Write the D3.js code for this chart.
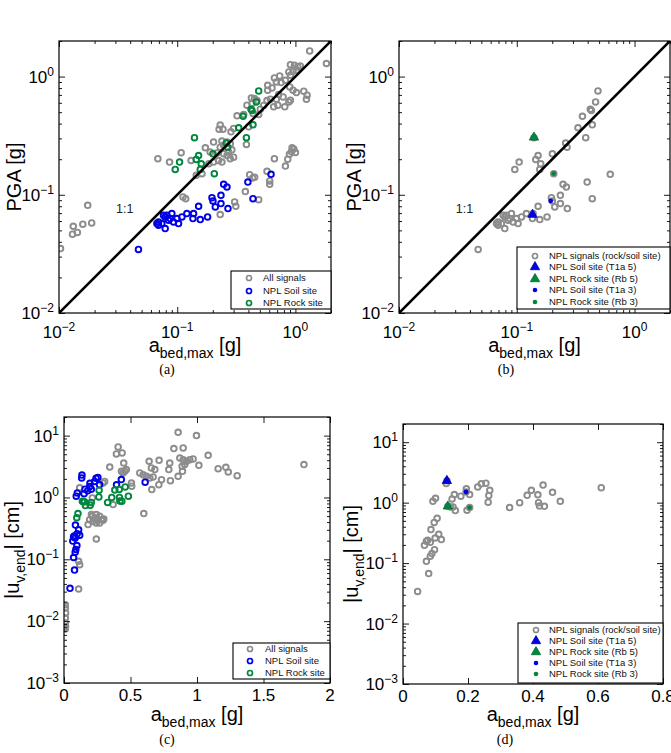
<!DOCTYPE html>
<html><head><meta charset="utf-8">
<script src="https://cdn.jsdelivr.net/npm/d3@7"></script>
<style>body{margin:0;background:#fff}</style>
</head><body>
<svg id="chart" width="671" height="753"></svg>
<script>
// ---------------- DATA ----------------
// Panel (a): PGA [g] vs a_bed,max [g]
const aAllSignals = [
 [0.0103,0.0351],[0.0130,0.0464],[0.0143,0.0480],[0.0132,0.0542],[0.0159,0.0564],[0.0189,0.0578],[0.0175,0.0815],
 [0.0686,0.202],[0.0861,0.189],[0.108,0.227],[0.131,0.195],[0.145,0.146],[0.162,0.151],[0.173,0.250],[0.190,0.230],[0.112,0.096],[0.118,0.0928],
 [0.231,0.389],[0.244,0.359],[0.226,0.359],[0.300,0.364],[0.285,0.341],[0.203,0.279],[0.239,0.285],[0.264,0.279],[0.281,0.270],[0.247,0.262],
 [0.231,0.253],[0.290,0.240],[0.272,0.230],[0.247,0.222],[0.217,0.226],[0.300,0.208],[0.281,0.202],[0.239,0.189],[0.224,0.195],[0.203,0.189],
 [0.185,0.183],[0.264,0.215],[0.385,0.267],[0.321,0.466],[0.402,0.376],[0.473,0.627],[0.365,0.478],
 [1.32,1.65],[1.83,1.29],[0.907,1.262],[0.981,1.246],[1.047,1.214],[1.10,1.23],[0.879,1.094],[0.955,1.109],[1.019,1.13],[0.907,1.026],
 [0.736,1.013],[0.664,0.975],[0.690,0.902],[0.756,0.890],[0.823,0.931],[0.583,0.845],[0.634,0.802],[0.583,0.767],[0.896,0.818],[0.955,0.767],
 [1.019,0.733],[1.177,0.752],[1.256,0.696],[1.239,0.644],[0.722,0.705],[0.787,0.673],[0.614,0.644],[0.690,0.644],[0.879,0.611],[0.907,0.631],
 [0.655,0.555],[0.71,0.573],[0.813,0.555],[0.424,0.660],[0.450,0.652],[0.389,0.573],[0.430,0.592],[0.505,0.530],[0.438,0.487],[0.489,0.478],
 [0.539,0.57],[0.575,0.627],
 [0.231,0.068],[0.306,0.087],[0.313,0.080],[0.377,0.1064],[0.41,0.148],[0.435,0.139],[0.452,0.141],[0.489,0.091],[0.575,0.158],[0.606,0.131],
 [0.606,0.1227],[0.664,0.202],[0.823,0.175],[0.861,0.200],[0.890,0.220],[0.925,0.231],[0.968,0.244],[1.0,0.228],[0.937,0.25]
];
const aSoilSite = [
 [0.047,0.0345],[0.0673,0.0571],[0.0695,0.059],[0.0695,0.0553],[0.0741,0.0571],[0.0791,0.065],[0.0845,0.0609],[0.0901,0.0694],[0.0873,0.0629],
 [0.0817,0.0671],[0.0766,0.0671],[0.0994,0.0629],[0.1026,0.0571],[0.0791,0.0518],[0.1096,0.065],[0.1208,0.0694],[0.1375,0.0694],[0.1358,0.0629],
 [0.1567,0.0617],[0.1517,0.080],[0.1807,0.065],[0.1968,0.0946],[0.2006,0.0887],[0.2345,0.099],[0.2345,0.0842],[0.210,0.0789],[0.2688,0.0764],
 [0.2472,0.1227],[0.2636,0.1164],[0.396,0.128],[0.4375,0.0928],[0.622,0.149],[0.0931,0.059]
];
const aRockSite = [
 [0.140,0.304],[0.0962,0.164],[0.1047,0.189],[0.1449,0.199],[0.1517,0.215],[0.1597,0.183],[0.1567,0.164],[0.2006,0.222],[0.206,0.151],
 [0.260,0.274],[0.2672,0.253],[0.331,0.369],[0.385,0.304],[0.361,0.462],[0.430,0.516],[0.4375,0.391],[0.467,0.611],[0.489,0.757],[0.421,0.530]
];
// Panel (b): selected records
const bSoilT1a5 = [[0.136,0.068]];
const bRockRb5  = [[0.140,0.306]];
const bSoilT1a3 = [[0.194,0.0887]];
const bRockRb3  = [[0.206,0.151]];

// Panel (c): |u_v,end| [cm] vs a_bed,max [g]
const cAllSignals = [
 [0.01,0.0185],[0.01,0.0163],[0.012,0.0136],[0.01,0.0112],[0.01,0.0093],[0.012,0.0082],[0.01,0.0075],
 [0.11,0.0331],[0.11,0.0929],[0.118,0.082],[0.243,0.213],
 [0.181,0.364],[0.193,0.438],[0.213,0.496],[0.231,0.466],[0.243,0.528],[0.256,0.438],[0.268,0.496],[0.281,0.438],[0.299,0.45],
 [0.218,0.412],[0.243,0.387],[0.268,0.387],[0.294,0.43],[0.206,0.528],
 [0.294,1.71],[0.306,1.82],[0.213,0.982],[0.118,1.43],
 [0.344,3.11],[0.407,6.56],[0.394,5.06],[0.437,5.25],[0.449,3.61],[0.457,2.65],[0.469,2.82],[0.444,2.49],[0.432,2.65],[0.507,1.71],
 [0.369,0.766],[0.60,0.548],[0.509,1.52],
 [0.570,2.49],[0.595,2.34],[0.620,2.20],[0.645,2.07],[0.670,2.15],[0.640,3.85],[0.657,3.0],[0.683,2.82],[0.715,3.99],[0.66,1.34],
 [0.713,1.61],[0.733,1.94],[0.795,3.61],[0.788,2.82],[0.80,1.87],[0.858,2.20],[0.858,11.3],[0.826,6.17],[0.896,6.32],[0.871,4.35],
 [0.896,4.09],[0.921,3.85],[0.946,4.09],[0.971,4.2],[0.908,3.40],[0.888,3.19],[0.891,2.65],[0.996,10],[1.014,3.31],[1.084,4.81],
 [1.159,2.92],[1.217,3.07],[1.235,2.58],[1.302,2.25],[1.804,3.40]
];
const cSoilSite = [
 [0.045,0.034],[0.079,0.067],[0.072,0.107],[0.084,0.13],[0.089,0.144],[0.097,0.167],[0.066,0.197],[0.076,0.239],[0.084,0.221],[0.072,0.23],
 [0.086,0.358],[0.099,0.26],[0.11,0.30],[0.118,0.245],[0.092,1.05],[0.1,1.18],[0.133,2.07],[0.135,2.3],[0.151,1.15],[0.158,1.36],
 [0.178,1.28],[0.195,1.69],[0.194,1.5],[0.205,1.36],[0.23,1.82],[0.241,2.05],[0.255,2.1],[0.267,1.6],[0.395,1.6],[0.431,1.95],[0.61,1.77]
];
const cRockSite = [
 [0.096,0.47],[0.105,0.55],[0.138,0.87],[0.146,0.85],[0.154,0.85],[0.161,0.74],[0.197,0.75],[0.205,0.83],[0.262,1.02],[0.264,1.31],
 [0.328,0.83],[0.359,1.0],[0.382,1.32],[0.415,1.35],[0.417,1.0],[0.42,0.88],[0.435,0.87],[0.46,1.48],[0.484,1.05]
];
// Panel (d): selected records
const dSoilT1a5 = [[0.135,2.3]];
const dRockRb5  = [[0.138,0.87]];
const dSoilT1a3 = [[0.194,1.5]];
const dRockRb3  = [[0.205,0.83]];

// Axis ticks / labels
const linTicksC = [0, 0.5, 1, 1.5, 2];
const linTicksD = [0, 0.2, 0.4, 0.6, 0.8];
const legendAC = ['All signals', 'NPL Soil site', 'NPL Rock site'];
const legendBD = ['NPL signals (rock/soil site)', 'NPL Soil site (T1a 5)', 'NPL Rock site (Rb 5)', 'NPL Soil site (T1a 3)', 'NPL Rock site (Rb 3)'];
const captions = ['(a)', '(b)', '(c)', '(d)'];

// ---------------- DRAWING ----------------
const FONT = '"Liberation Sans", Arial, Helvetica, sans-serif';
const COL = {gray:'#8c8c8c', blue:'#0000e6', green:'#00873d'};
const svg = d3.select('#chart').style('font-family', FONT);
svg.append('rect').attr('width', 671).attr('height', 753).attr('fill', '#fff');

const isPow10 = v => Math.abs(Math.log10(v) - Math.round(Math.log10(v))) < 1e-6;

function makePanel(cfg) {
  const {l, t, r, b} = cfg.box;
  const x = (cfg.xLog ? d3.scaleLog() : d3.scaleLinear()).domain(cfg.xDomain).range([l, r]);
  const y = d3.scaleLog().domain(cfg.yDomain).range([b, t]);
  const g = svg.append('g');
  const cid = 'clip' + cfg.id;
  svg.append('clipPath').attr('id', cid).append('rect')
    .attr('x', l).attr('y', t).attr('width', r - l).attr('height', b - t);
  const plot = g.append('g').attr('clip-path', `url(#${cid})`);
  return {x, y, g, plot, cfg};
}

function supText(sel, v) {
  const e = Math.round(Math.log10(v));
  sel.append('tspan').text('10');
  sel.append('tspan').attr('dy', -7).attr('font-size', 12).text(e < 0 ? '\u2212' + (-e) : String(e));
}

function drawAxes(P) {
  const {l, t, r, b} = P.cfg.box;
  const {x, y, g} = P;
  const yT = y.ticks();
  const yMaj = yT.filter(isPow10), yMin = yT.filter(v => !isPow10(v));
  let xMaj, xMin;
  if (P.cfg.xLog) { const xt = x.ticks(); xMaj = xt.filter(isPow10); xMin = xt.filter(v => !isPow10(v)); }
  else { xMaj = P.cfg.xTicks; xMin = []; }
  const add = (gen, tr) => g.append('g').attr('transform', tr).call(gen)
      .call(s => s.select('.domain').remove())
      .call(s => s.selectAll('text').remove())
      .call(s => s.selectAll('line').attr('stroke', '#000').attr('stroke-width', 0.9));
  [[xMaj, 6], [xMin, 3]].forEach(([vals, len]) => {
    if (!vals.length) return;
    add(d3.axisBottom(x).tickValues(vals).tickSize(-len), `translate(0,${b})`);
    add(d3.axisTop(x).tickValues(vals).tickSize(-len), `translate(0,${t})`);
  });
  [[yMaj, 6], [yMin, 3]].forEach(([vals, len]) => {
    if (!vals.length) return;
    add(d3.axisLeft(y).tickValues(vals).tickSize(-len), `translate(${l},0)`);
    add(d3.axisRight(y).tickValues(vals).tickSize(-len), `translate(${r},0)`);
  });
  yMaj.forEach(v => {
    const tx = g.append('text').attr('x', l - 5).attr('y', y(v) + 6)
      .attr('text-anchor', 'end').attr('font-size', 17).attr('fill', '#000');
    supText(tx, v);
  });
  xMaj.forEach(v => {
    if (P.cfg.xLog) {
      const tx = g.append('text').attr('x', x(v)).attr('y', b + 25)
        .attr('text-anchor', 'middle').attr('font-size', 17).attr('fill', '#000');
      supText(tx, v);
    } else {
      g.append('text').attr('x', x(v)).attr('y', b + 18)
        .attr('text-anchor', 'middle').attr('font-size', 17).attr('fill', '#000').text(String(v));
    }
  });
  g.append('rect').attr('x', l).attr('y', t).attr('width', r - l).attr('height', b - t)
    .attr('fill', 'none').attr('stroke', '#000').attr('stroke-width', 1.2);
}

function axisTitles(P, xBase, yBase, yText) {
  const {l, t, r, b} = P.cfg.box;
  const xt = P.g.append('text').attr('x', (l + r) / 2).attr('y', xBase)
    .attr('text-anchor', 'middle').attr('font-size', 20);
  xt.append('tspan').text('a');
  xt.append('tspan').attr('font-size', 14).attr('dy', 6).text('bed,max');
  xt.append('tspan').attr('dy', -6).text(' [g]');
  const yt = P.g.append('text').attr('transform', `translate(${yBase},${(t + b) / 2}) rotate(-90)`)
    .attr('text-anchor', 'middle').attr('font-size', 20);
  if (yText === 'PGA') {
    yt.text('PGA [g]');
  } else {
    yt.append('tspan').text('|u');
    yt.append('tspan').attr('font-size', 14).attr('dy', 6).text('v,end');
    yt.append('tspan').attr('dy', -6).text('| [cm]');
  }
}

function rings(P, data, color) {
  P.plot.selectAll(null).data(data).enter().append('circle')
    .attr('cx', d => P.x(d[0])).attr('cy', d => P.y(d[1])).attr('r', 2.8)
    .attr('fill', 'none').attr('stroke', color).attr('stroke-width', 1.9);
}
const triPath = d3.symbol().type(d3.symbolTriangle).size(38);
function tris(P, data, color) {
  P.plot.selectAll(null).data(data).enter().append('path')
    .attr('d', triPath).attr('transform', d => `translate(${P.x(d[0])},${P.y(d[1])})`)
    .attr('fill', color).attr('stroke', d3.color(color).darker(0.6)).attr('stroke-width', 0.8);
}
function dots(P, data, color) {
  P.plot.selectAll(null).data(data).enter().append('circle')
    .attr('cx', d => P.x(d[0])).attr('cy', d => P.y(d[1])).attr('r', 2.4).attr('fill', color);
}
function oneToOne(P) {
  const d = P.cfg.xDomain;
  P.plot.append('line').attr('x1', P.x(d[0])).attr('y1', P.y(d[0])).attr('x2', P.x(d[1])).attr('y2', P.y(d[1]))
    .attr('stroke', '#000').attr('stroke-width', 2.6);
  P.g.append('text').attr('x', P.x(0.0304)).attr('y', P.y(0.0698)).attr('font-size', 12.5)
    .attr('fill', '#222').text('1:1');
}

function legend(P, box, rows, mx, tx, items) {
  const lg = P.g.append('g');
  lg.append('rect').attr('x', box[0]).attr('y', box[1]).attr('width', box[2]).attr('height', box[3])
    .attr('fill', '#fff').attr('stroke', '#000').attr('stroke-width', 1.1);
  items.forEach((it, i) => {
    const yy = rows[i];
    if (it.kind === 'ring') lg.append('circle').attr('cx', mx).attr('cy', yy).attr('r', 2.5)
      .attr('fill', 'none').attr('stroke', it.color).attr('stroke-width', 1.7);
    else if (it.kind === 'tri') lg.append('path').attr('d', triPath).attr('transform', `translate(${mx},${yy})`)
      .attr('fill', it.color).attr('stroke', d3.color(it.color).darker(0.6)).attr('stroke-width', 0.8);
    else lg.append('circle').attr('cx', mx).attr('cy', yy).attr('r', 2.3).attr('fill', it.color);
    lg.append('text').attr('x', tx).attr('y', yy + 3.4).attr('font-size', 9.5).attr('fill', '#111').text(it.label);
  });
}

// ---- Panel a
const A = makePanel({id: 'a', box: {l: 59, t: 41, r: 331, b: 313}, xLog: true, xDomain: [0.01, 2], yDomain: [0.01, 2]});
rings(A, aAllSignals, COL.gray);
rings(A, aSoilSite, COL.blue);
rings(A, aRockSite, COL.green);
oneToOne(A);
drawAxes(A);
axisTitles(A, 352, 21, 'PGA');
legend(A, [231, 271, 100, 38], [278, 291, 303], 249, 263, [
  {kind: 'ring', color: COL.gray, label: legendAC[0]},
  {kind: 'ring', color: COL.blue, label: legendAC[1]},
  {kind: 'ring', color: COL.green, label: legendAC[2]}]);

// ---- Panel b
const B = makePanel({id: 'b', box: {l: 399, t: 41, r: 670, b: 313}, xLog: true, xDomain: [0.01, 2], yDomain: [0.01, 2]});
rings(B, aSoilSite.concat(aRockSite), COL.gray);
tris(B, bSoilT1a5, COL.blue);
tris(B, bRockRb5, COL.green);
dots(B, bSoilT1a3, COL.blue);
dots(B, bRockRb3, COL.green);
oneToOne(B);
drawAxes(B);
axisTitles(B, 352, 361, 'PGA');
legend(B, [517, 247, 153, 62], [256, 267, 279, 290, 302], 535, 549, [
  {kind: 'ring', color: COL.gray, label: legendBD[0]},
  {kind: 'tri', color: COL.blue, label: legendBD[1]},
  {kind: 'tri', color: COL.green, label: legendBD[2]},
  {kind: 'dot', color: COL.blue, label: legendBD[3]},
  {kind: 'dot', color: COL.green, label: legendBD[4]}]);

// ---- Panel c
const C = makePanel({id: 'c', box: {l: 64, t: 417, r: 330, b: 683}, xLog: false, xDomain: [0, 2], yDomain: [0.001, 20], xTicks: linTicksC});
rings(C, cAllSignals, COL.gray);
rings(C, cSoilSite, COL.blue);
rings(C, cRockSite, COL.green);
drawAxes(C);
axisTitles(C, 721, 19, 'U');
legend(C, [233, 643, 97, 36], [649, 661, 673], 250, 265, [
  {kind: 'ring', color: COL.gray, label: legendAC[0]},
  {kind: 'ring', color: COL.blue, label: legendAC[1]},
  {kind: 'ring', color: COL.green, label: legendAC[2]}]);

// ---- Panel d
const D = makePanel({id: 'd', box: {l: 403, t: 424, r: 663, b: 684}, xLog: false, xDomain: [0, 0.8], yDomain: [0.001, 20], xTicks: linTicksD});
rings(D, cSoilSite.concat(cRockSite), COL.gray);
tris(D, dSoilT1a5, COL.blue);
tris(D, dRockRb5, COL.green);
dots(D, dSoilT1a3, COL.blue);
dots(D, dRockRb3, COL.green);
drawAxes(D);
axisTitles(D, 721, 358, 'U');
legend(D, [518, 623, 145, 60], [630, 641, 652, 663, 674], 536, 549, [
  {kind: 'ring', color: COL.gray, label: legendBD[0]},
  {kind: 'tri', color: COL.blue, label: legendBD[1]},
  {kind: 'tri', color: COL.green, label: legendBD[2]},
  {kind: 'dot', color: COL.blue, label: legendBD[3]},
  {kind: 'dot', color: COL.green, label: legendBD[4]}]);

// ---- Captions
const capPos = [[167, 374], [506, 374], [167, 744], [505, 744]];
captions.forEach((c, i) => svg.append('text').attr('x', capPos[i][0]).attr('y', capPos[i][1])
  .attr('text-anchor', 'middle').attr('font-family', '"Liberation Serif", "DejaVu Serif", serif')
  .attr('font-size', 14).attr('fill', '#000').text(c));
</script>
</body></html>
